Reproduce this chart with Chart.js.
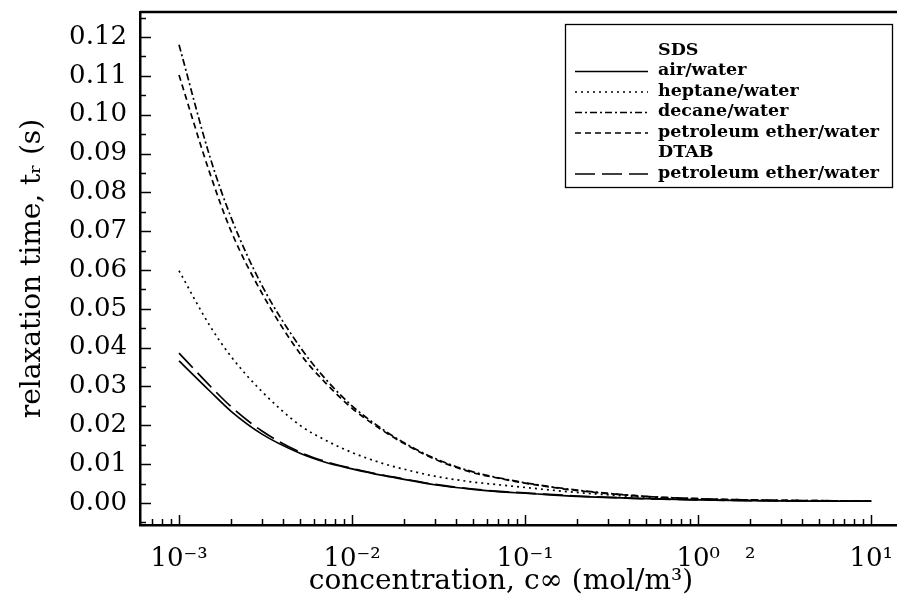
<!DOCTYPE html>
<html><head><meta charset="utf-8">
<script src="https://cdn.jsdelivr.net/npm/chart.js@4.4.1/dist/chart.umd.min.js"></script>
<style>html,body{margin:0;padding:0;background:#fff;}#wrap{width:897px;height:602px;}</style>
</head><body><div id="wrap"><canvas id="c" width="897" height="602"></canvas></div>
<script>
// ---- data ----
const concentrations = [0.001, 0.0015, 0.002, 0.003, 0.005, 0.007, 0.01, 0.015, 0.02, 0.03, 0.05, 0.07, 0.1, 0.2, 0.5, 1, 2, 5, 10];
const sdsAirWater    = [0.0366, 0.0289, 0.0236, 0.0178, 0.0128, 0.0105, 0.0088, 0.0071, 0.0061, 0.0047, 0.0035, 0.0029, 0.0025, 0.0017, 0.0011, 0.0008, 0.0006, 0.0005, 0.0005];
const sdsHeptane     = [0.0598, 0.0458, 0.0377, 0.0288, 0.0200, 0.0162, 0.0130, 0.0102, 0.0087, 0.0069, 0.0054, 0.0047, 0.0040, 0.0027, 0.0015, 0.0010, 0.0007, 0.0005, 0.0005];
const sdsDecane      = [0.1180, 0.0895, 0.0735, 0.0562, 0.0402, 0.0320, 0.0250, 0.0190, 0.0155, 0.0115, 0.0080, 0.0065, 0.0052, 0.0033, 0.0017, 0.0011, 0.0008, 0.0006, 0.0005];
const sdsPetroleum   = [0.1102, 0.0852, 0.0700, 0.0542, 0.0385, 0.0310, 0.0244, 0.0187, 0.0153, 0.0113, 0.0078, 0.0064, 0.0051, 0.0032, 0.0017, 0.0011, 0.0008, 0.0006, 0.0005];
const dtabPetroleum  = [0.0386, 0.0303, 0.0248, 0.0186, 0.0131, 0.0107, 0.0089, 0.0072, 0.0062, 0.0048, 0.0036, 0.0030, 0.0026, 0.0018, 0.0011, 0.0008, 0.0006, 0.0005, 0.0005];
const seriesNames = ['air/water', 'heptane/water', 'decane/water', 'petroleum ether/water', 'petroleum ether/water'];
const groupNames = ['SDS', 'DTAB'];
const xTickValues = [0.001, 0.01, 0.1, 1, 2, 10];
const xTickLabels = ['10⁻³', '10⁻²', '10⁻¹', '10⁰', '²', '10¹'];
const yTickValues = [0, 0.01, 0.02, 0.03, 0.04, 0.05, 0.06, 0.07, 0.08, 0.09, 0.10, 0.11, 0.12];
const yTickLabels = ['0.00','0.01','0.02','0.03','0.04','0.05','0.06','0.07','0.08','0.09','0.10','0.11','0.12'];
const xTitle = 'concentration, c∞ (mol/m³)';
const yTitle = 'relaxation time, tᵣ (s)';

const SERIF = "'DejaVu Serif', serif";
const pts = arr => concentrations.map((c, i) => ({x: c, y: arr[i]}));
const dashes = [[], [2, 4], [7, 3, 2, 3], [6, 4], [20, 7]];
const allSeries = [sdsAirWater, sdsHeptane, sdsDecane, sdsPetroleum, dtabPetroleum];

const datasets = allSeries.map((arr, i) => ({
  label: seriesNames[i],
  data: pts(arr),
  borderColor: '#000',
  borderWidth: 1.7,
  borderDash: dashes[i],
  pointRadius: 0,
  fill: false,
  cubicInterpolationMode: 'monotone'
}));

const noPad = s => { s.paddingLeft = 0; s.paddingRight = 0; s.paddingTop = 0; s.paddingBottom = 0; };

const frameAndTicks = {
  id: 'frameAndTicks',
  afterDraw(chart) {
    const ctx = chart.ctx, a = chart.chartArea;
    const xs = chart.scales.x, ys = chart.scales.y;
    ctx.save();
    ctx.strokeStyle = '#000';
    ctx.lineWidth = 2.5;
    ctx.beginPath();
    ctx.moveTo(a.left, a.top); ctx.lineTo(a.right + 2, a.top);
    ctx.stroke();
    // y ticks (inward)
    ctx.lineWidth = 1.5;
    for (let v = -0.005; v <= 0.1255; v += 0.005) {
      const py = Math.round(ys.getPixelForValue(v)) + 0.5;
      if (py > a.bottom - 2 || py < a.top + 2) continue;
      const major = Math.abs(v / 0.01 - Math.round(v / 0.01)) < 1e-6;
      ctx.beginPath(); ctx.moveTo(a.left, py); ctx.lineTo(a.left + (major ? 11 : 6), py); ctx.stroke();
    }
    // x ticks (inward)
    for (let e = -4; e <= 1; e++) {
      for (let m = 1; m <= 9; m++) {
        const v = m * Math.pow(10, e);
        const px = Math.round(xs.getPixelForValue(v)) + 0.5;
        if (px < a.left + 2 || px > a.right - 1) continue;
        ctx.beginPath(); ctx.moveTo(px, a.bottom); ctx.lineTo(px, a.bottom - (m === 1 ? 10 : 6)); ctx.stroke();
      }
    }
    // x-axis title
    ctx.fillStyle = '#000';
    ctx.font = "28px " + SERIF;
    ctx.textAlign = 'center';
    ctx.textBaseline = 'middle';
    ctx.fillText(xTitle, 501, 582);
    // legend
    const L = {left: 565, top: 24, right: 892, bottom: 187};
    ctx.lineWidth = 1.3;
    ctx.strokeRect(L.left + 0.5, L.top + 0.5, L.right - L.left, L.bottom - L.top);
    ctx.font = "bold 17.5px " + SERIF;
    ctx.textAlign = 'left';
    const rows = [
      {text: groupNames[0]}, {ds: 0}, {ds: 1}, {ds: 2}, {ds: 3}, {text: groupNames[1]}, {ds: 4}
    ];
    const textX = 658, lineX0 = 575, lineX1 = 648;
    rows.forEach((r, i) => {
      const y = 50 + i * 20.5;
      if (r.text !== undefined) { ctx.fillText(r.text, textX, y); return; }
      const d = chart.data.datasets[r.ds];
      ctx.save();
      ctx.lineWidth = d.borderWidth;
      ctx.setLineDash(d.borderDash);
      ctx.beginPath(); ctx.moveTo(lineX0, y + 1); ctx.lineTo(lineX1, y + 1); ctx.stroke();
      ctx.restore();
      ctx.fillText(d.label, textX, y);
    });
    ctx.restore();
  }
};

new Chart(document.getElementById('c'), {
  type: 'line',
  data: {datasets},
  options: {
    responsive: false,
    devicePixelRatio: 1,
    animation: false,
    layout: {padding: {top: 12, right: 0, left: 0, bottom: 0}},
    plugins: {legend: {display: false}, tooltip: {enabled: false}},
    scales: {
      x: {
        type: 'logarithmic',
        min: 5.95e-4, max: 14.1,
        afterBuildTicks: s => { s.ticks = xTickValues.map(v => ({value: v, major: true})); },
        afterFit: s => { s.height = 77; noPad(s); },
        grid: {display: false, drawTicks: false},
        border: {display: true, color: '#000', width: 2.5},
        ticks: {
          autoSkip: false, maxRotation: 0, padding: 19, color: '#000',
          font: {family: SERIF, size: 26},
          callback: (v, i) => xTickLabels[i]
        },
        title: {display: false, text: xTitle}
      },
      y: {
        type: 'linear',
        min: -0.00567, max: 0.12644,
        afterBuildTicks: s => { s.ticks = yTickValues.map(v => ({value: v})); },
        afterFit: s => { s.width = 140; noPad(s); },
        grid: {display: false, drawTicks: false},
        border: {display: true, color: '#000', width: 2.5},
        ticks: {
          padding: 13, color: '#000',
          font: {family: SERIF, size: 26},
          callback: (v, i) => yTickLabels[i]
        },
        title: {display: true, text: yTitle, color: '#000', font: {family: SERIF, size: 28}, padding: {top: 16, bottom: 0}}
      }
    }
  },
  plugins: [frameAndTicks]
});
</script>
</body></html>
